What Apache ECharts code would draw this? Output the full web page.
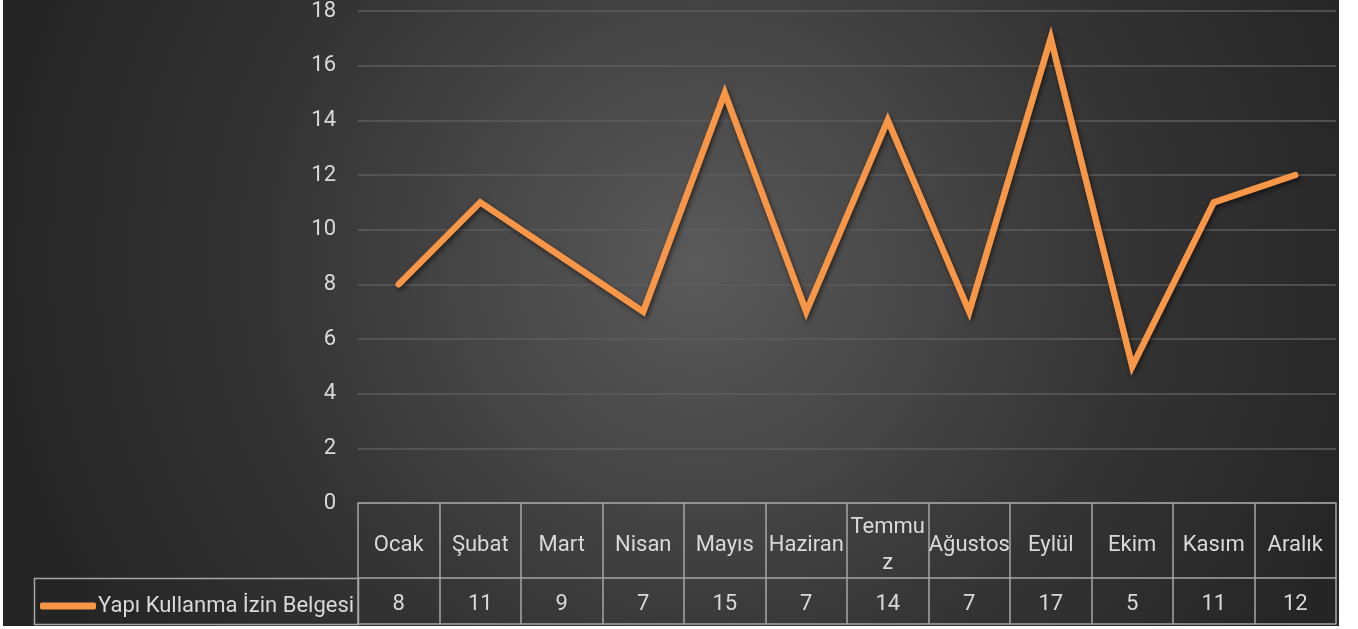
<!DOCTYPE html>
<html><head><meta charset="utf-8">
<script src="https://cdn.jsdelivr.net/npm/echarts@6/dist/echarts.min.js"></script>
<style>html,body{margin:0;padding:0;background:#fff;}#c{position:absolute;left:3px;top:0;width:1336px;height:626px;}</style>
</head><body><div id="c"></div>
<script>
const categories = ['Ocak','Şubat','Mart','Nisan','Mayıs','Haziran','Temmuz','Ağustos','Eylül','Ekim','Kasım','Aralık'];
const seriesName = 'Yapı Kullanma İzin Belgesi';
const values = [8, 11, 9, 7, 15, 7, 14, 7, 17, 5, 11, 12];
const yTicks = {min: 0, max: 18, interval: 2};

const FONT = 'Roboto, "Noto Sans", sans-serif';
const FS = 22;
const TXT = '#d9d9d9';
const BORDER = '#a6a6a6';
const chart = echarts.init(document.getElementById('c'));
chart.setOption({
  animation: false,
  backgroundColor: {
    type: 'radial', x: 0.52, y: 0.42, r: 1.15,
    colorStops: [{offset: 0, color: '#5a5a5a'}, {offset: 0.6, color: '#343434'}, {offset: 1, color: '#242424'}]
  },
  grid: {left: 355, right: 3, top: 10, bottom: 123},
  legend: {
    show: true, left: 32, top: 590, itemWidth: 56, itemHeight: 7, itemGap: 2,
    icon: 'roundRect',
    textStyle: {color: TXT, fontFamily: FONT, fontSize: FS, padding: [0,0,0,-3]},
    data: [seriesName]
  },
  graphic: [{
    type: 'rect', shape: {x: 31.5, y: 578.5, width: 324, height: 46},
    style: {fill: 'none', stroke: BORDER, lineWidth: 1.5}, silent: true
  }],
  xAxis: [{
    type: 'category', data: categories, position: 'bottom', boundaryGap: true,
    axisLine: {show: true, lineStyle: {color: BORDER, width: 1.5}},
    axisTick: {show: true, inside: false, length: 121, interval: 0, lineStyle: {color: BORDER, width: 1.5}},
    axisLabel: {
      interval: 0, color: TXT, fontFamily: FONT, fontSize: FS, margin: 42, lineHeight: 36,
      verticalAlign: 'middle',
      formatter: v => v === 'Temmuz' ? 'Temmu\nz' : v
    }
  }, {
    type: 'category', data: categories, position: 'bottom', offset: 75, boundaryGap: true,
    axisLine: {show: true, lineStyle: {color: BORDER, width: 1.5}},
    axisTick: {show: false},
    axisLabel: {interval: 0, color: TXT, fontFamily: FONT, fontSize: FS, margin: 26, verticalAlign: 'middle',
      formatter: (v, i) => String(values[i])}
  }, {
    type: 'category', data: categories, position: 'bottom', offset: 121, boundaryGap: true,
    axisLine: {show: true, lineStyle: {color: BORDER, width: 1.5}},
    axisTick: {show: false}, axisLabel: {show: false}
  }],
  yAxis: {
    type: 'value', min: yTicks.min, max: yTicks.max, interval: yTicks.interval,
    axisLine: {show: false}, axisTick: {show: false},
    axisLabel: {color: TXT, fontFamily: FONT, fontSize: FS, margin: 22},
    splitLine: {show: true, lineStyle: {color: '#5c5c5c', width: 1.5}}
  },
  series: [{
    name: seriesName, type: 'line', data: values, xAxisIndex: 0,
    symbol: 'none', smooth: false,
    lineStyle: {color: '#F79646', width: 6.5, cap: 'round', join: 'miter',
      shadowColor: 'rgba(0,0,0,0.55)', shadowBlur: 5, shadowOffsetX: 1.5, shadowOffsetY: 2.5},
    itemStyle: {color: '#F79646'}
  }]
});
</script></body></html>
